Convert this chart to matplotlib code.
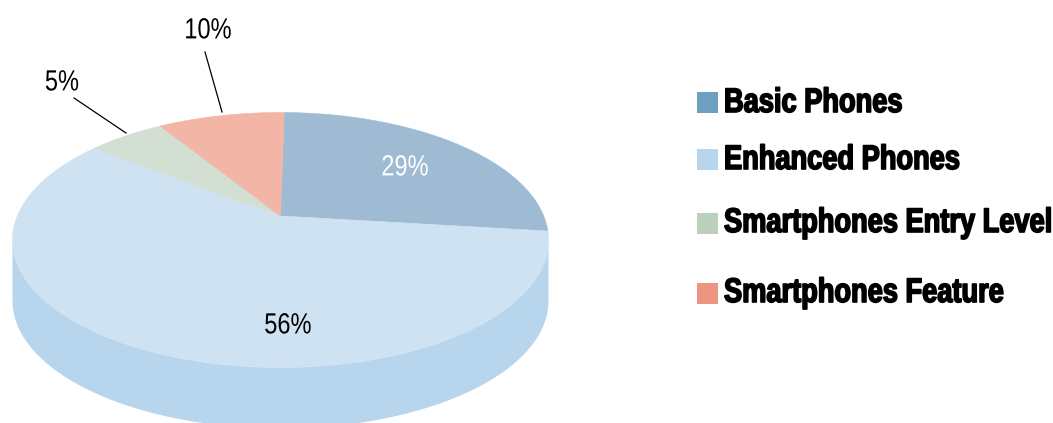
"""Handset mix: tilted pie with a solid base, legend on the right."""

import matplotlib
matplotlib.use("Agg")
import matplotlib.pyplot as plt
import matplotlib.patheffects as pe
from matplotlib.text import Text
from matplotlib.transforms import Affine2D, Bbox
import numpy as np

plt.rcParams["font.family"] = ["Liberation Sans", "DejaVu Sans"]

categories = ["Basic Phones", "Enhanced Phones", "Smartphones Entry Level", "Smartphones Feature"]
percent_labels = [29, 56, 5, 10]
# the slices in the picture are not quite to scale, so these are measured off it
drawn_shares = [26.6, 58.5, 5.6, 9.3]

top_colors = ["#9FBBD4", "#CFE2F2", "#D2DFD2", "#F3B5A6"]
legend_colors = ["#6E9FC0", "#B8D5EE", "#BBD1BC", "#EE9482"]
side_color = "#B8D5EE"

# ellipse of the top face, apex sits above its centre
CX, CY, A, B = 280.5, 240.0, 268.0, 127.5
APEX_Y = (CY - 216.0) / B
DEPTH = 61.0
START_ANGLE = 1.0


class TallGlyphs(pe.AbstractPathEffect):
    """Condensed look: no narrow font installed, so stretch glyphs in y about the anchor."""

    def __init__(self, y0, scale, stroke=0.0):
        super().__init__()
        self.y0 = y0
        self.scale = scale
        self.stroke = stroke

    def draw_path(self, renderer, gc, tpath, affine, rgbFace=None):
        tall = affine + Affine2D().translate(0, -self.y0).scale(1, self.scale).translate(0, self.y0)
        gc0 = renderer.new_gc()
        gc0.copy_properties(gc)
        if self.stroke:
            gc0.set_linewidth(self.stroke)
            gc0.set_foreground(rgbFace)
        renderer.draw_path(gc0, tpath, tall, rgbFace)
        gc0.restore()


class CondensedText(Text):
    """Text drawn through TallGlyphs, reporting the extent it really covers."""

    def __init__(self, x, y, s, scale, stroke=0.0, **kwargs):
        super().__init__(x, y, s, **kwargs)
        self.scale = scale
        self.stroke = stroke

    def _anchor_y(self):
        return self.get_transform().transform(self.get_position())[1]

    def draw(self, renderer):
        self.set_path_effects([TallGlyphs(self._anchor_y(), self.scale, self.stroke)])
        super().draw(renderer)

    def get_window_extent(self, renderer=None, dpi=None):
        box = super().get_window_extent(renderer, dpi)
        y0 = self._anchor_y()
        return Bbox.from_extents(
            box.x0, y0 + (box.y0 - y0) * self.scale,
            box.x1, y0 + (box.y1 - y0) * self.scale,
        )


def to_px(x, y):
    return CX + A * x, CY - B * y


def rim_point(theta):
    # ray from the off-centre apex out to the unit circle, clockwise from top
    dx, dy = np.sin(theta), np.cos(theta)
    b = APEX_Y * dy
    t = -b + np.sqrt(b * b - APEX_Y * APEX_Y + 1)
    return t * dx, APEX_Y + t * dy


fig = plt.figure(figsize=(10.53, 4.23), dpi=100)
ax = fig.add_axes([0, 0, 1, 1])
ax.set_xlim(0, 1053)
ax.set_ylim(423, 0)
ax.axis("off")

# base: lower half of the rim swept down by the depth
t = np.linspace(np.pi, 2 * np.pi, 200)
xs, ys = to_px(np.cos(t), np.sin(t))
ax.fill(
    np.r_[xs, xs[::-1]], np.r_[ys + DEPTH, ys[::-1]],
    color=side_color, linewidth=0,
)

# top face
edges = np.radians(START_ANGLE + np.cumsum(np.r_[0, drawn_shares]) * 3.6)
for i, color in enumerate(top_colors):
    theta = np.linspace(edges[i], edges[i + 1], 120)
    rx, ry = rim_point(theta)
    px, py = to_px(np.r_[0, rx], np.r_[APEX_Y, ry])
    ax.fill(px, py, color=color, linewidth=0.4, edgecolor=color)

# value labels
label_pos = [(405, 168), (288, 326), (62, 83), (208, 31)]
label_color = ["white", "black", "black", "black"]
for val, (x, y), c in zip(percent_labels, label_pos, label_color):
    ax.add_artist(CondensedText(
        x, y, f"{val}%", 1.235, ha="center", va="center", fontsize=17, color=c,
        transform=ax.transData,
    ))

# leader lines
ax.plot([74, 126], [98, 133], color="black", linewidth=0.9)
ax.plot([205, 222], [52, 112], color="black", linewidth=0.9)

# legend
swatch_top = [92, 149, 213, 283]
baselines = [112, 169, 232, 302]
for name, color, top, base in zip(categories, legend_colors, swatch_top, baselines):
    ax.add_patch(plt.Rectangle((697, top), 21, 21, facecolor=color, edgecolor="none"))
    ax.add_artist(CondensedText(
        724, base, name, 1.25, stroke=1.2, ha="left", va="baseline", fontsize=19.6,
        fontweight="bold", color="black", transform=ax.transData,
    ))

fig.savefig("out.png", dpi=100)
